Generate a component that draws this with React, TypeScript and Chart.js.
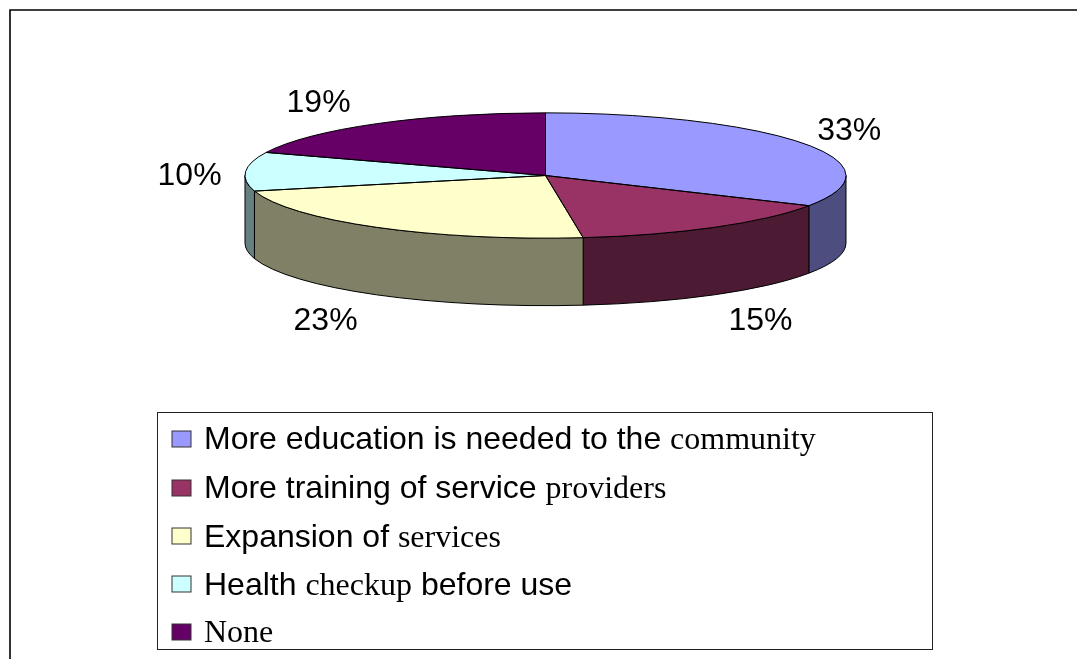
import React, { useEffect, useRef } from "react";
import { Chart, registerables } from "chart.js";

Chart.register(...registerables);

// Share of answers per suggestion, in percent.
const shares = [33, 15, 23, 10, 19];
const topColors = ["#9999FF", "#993366", "#FFFFCC", "#CCFFFF", "#660066"];
const wallColors = ["#4D4D80", "#4D1A33", "#808066", "#668080", "#330033"];

// Legend entries are split into runs; odd-numbered runs are set in the serif face.
const legendRuns = [
  ["More education is needed to the ", "community"],
  ["More training of service ", "providers"],
  ["Expansion of ", "services"],
  ["Health ", "checkup", " before use"],
  ["", "None"],
];
const categories = legendRuns.map((r) => r.join(""));

// Distance of each percentage label from the rim point at its slice's middle.
const labelOffsets = [
  [45, -12],
  [46, 94],
  [-51, 94],
  [-56, 5],
  [-58, -21],
];

const WIDTH = 1077;
const HEIGHT = 659;
const TILT = 0.2085;
const RIM_Y = 175.5;
const DEPTH = 67.5;
const SANS = "32px 'Liberation Sans'";
const SERIF = "32px 'Liberation Serif'";
const LEGEND_BOX = { left: 157.5, top: 412.5, right: 932.5, bottom: 649.5 };
const LEGEND_BASELINES = [449, 498, 547, 595, 642];
const LEGEND_SWATCH_TOPS = [431, 480, 528, 576, 624];

// Moves the flat pie's coordinate system onto the tilted disc, shifted down by `drop`.
function tilt(ctx: CanvasRenderingContext2D, cy: number, drop = 0) {
  ctx.translate(0, RIM_Y + drop);
  ctx.scale(1, TILT);
  ctx.translate(0, -cy);
}

const tiltedPie = {
  id: "tiltedPie",
  beforeDraw(chart: any) {
    const { ctx } = chart;
    ctx.save();
    ctx.strokeStyle = "#000";
    ctx.lineWidth = 1.6;
    ctx.beginPath();
    ctx.moveTo(10, HEIGHT);
    ctx.lineTo(10, 10);
    ctx.lineTo(WIDTH, 10);
    ctx.stroke();
    ctx.restore();
  },
  beforeDatasetsDraw(chart: any) {
    const { ctx } = chart;
    const arcs = chart.getDatasetMeta(0).data;
    // Side wall: only the part of each slice on the front half of the disc shows.
    arcs.forEach((arc: any, i: number) => {
      const from = Math.max(arc.startAngle, 0);
      const to = Math.min(arc.endAngle, Math.PI);
      if (to <= from) return;
      ctx.save();
      ctx.beginPath();
      ctx.save();
      tilt(ctx, arc.y);
      ctx.arc(arc.x, arc.y, arc.outerRadius, from, to);
      ctx.restore();
      ctx.save();
      tilt(ctx, arc.y, DEPTH);
      ctx.arc(arc.x, arc.y, arc.outerRadius, to, from, true);
      ctx.restore();
      ctx.closePath();
      ctx.fillStyle = wallColors[i];
      ctx.fill();
      ctx.strokeStyle = "#000";
      ctx.lineWidth = 1;
      ctx.stroke();
      ctx.restore();
    });
  },
  beforeDatasetDraw(chart: any) {
    const { ctx } = chart;
    const arc = chart.getDatasetMeta(0).data[0];
    ctx.save();
    tilt(ctx, arc.y);
  },
  afterDatasetDraw(chart: any) {
    const { ctx } = chart;
    ctx.restore();
    // Slice outlines are stroked untransformed so the pen width stays even.
    chart.getDatasetMeta(0).data.forEach((arc: any) => {
      ctx.save();
      ctx.beginPath();
      ctx.save();
      tilt(ctx, arc.y);
      ctx.moveTo(arc.x, arc.y);
      ctx.arc(arc.x, arc.y, arc.outerRadius, arc.startAngle, arc.endAngle);
      ctx.closePath();
      ctx.restore();
      ctx.strokeStyle = "#000";
      ctx.lineWidth = 1;
      ctx.stroke();
      ctx.restore();
    });
  },
  afterDraw(chart: any) {
    const { ctx } = chart;
    ctx.save();
    ctx.fillStyle = "#000";
    ctx.textBaseline = "middle";
    ctx.textAlign = "center";
    ctx.font = SANS;
    // Percentage labels placed around the rim.
    chart.getDatasetMeta(0).data.forEach((arc: any, i: number) => {
      const mid = (arc.startAngle + arc.endAngle) / 2;
      const x = arc.x + arc.outerRadius * Math.cos(mid) + labelOffsets[i][0];
      const y = RIM_Y + arc.outerRadius * TILT * Math.sin(mid) + labelOffsets[i][1];
      ctx.fillText(`${shares[i]}%`, x, y);
    });

    // Legend box with mixed-face entries.
    const b = LEGEND_BOX;
    ctx.strokeStyle = "#222";
    ctx.lineWidth = 1;
    ctx.strokeRect(b.left, b.top, b.right - b.left, b.bottom - b.top);
    ctx.textAlign = "left";
    ctx.textBaseline = "alphabetic";
    legendRuns.forEach((runs, i) => {
      ctx.fillStyle = topColors[i];
      ctx.fillRect(172, LEGEND_SWATCH_TOPS[i], 19, 16);
      ctx.strokeStyle = "#333";
      ctx.strokeRect(172, LEGEND_SWATCH_TOPS[i], 19, 16);
      ctx.fillStyle = "#000";
      let x = 204;
      runs.forEach((run, r) => {
        ctx.font = r % 2 === 1 ? SERIF : SANS;
        ctx.fillText(run, x, LEGEND_BASELINES[i]);
        x += ctx.measureText(run).width;
      });
    });
    ctx.restore();
  },
};

export default function App() {
  const canvasRef = useRef<HTMLCanvasElement | null>(null);

  useEffect(() => {
    const chart = new Chart(canvasRef.current!, {
      type: "pie",
      data: {
        labels: categories,
        datasets: [{ data: shares, backgroundColor: topColors, borderWidth: 0 }],
      },
      options: {
        responsive: false,
        animation: false,
        layout: { padding: { left: 245, right: 231, top: 0, bottom: 57 } },
        plugins: { legend: { display: false }, tooltip: { enabled: false } },
      },
      plugins: [tiltedPie],
    });
    return () => chart.destroy();
  }, []);

  return (
    <canvas
      ref={canvasRef}
      width={WIDTH}
      height={HEIGHT}
      style={{ position: "absolute", left: 0, top: 0, display: "block" }}
    />
  );
}
